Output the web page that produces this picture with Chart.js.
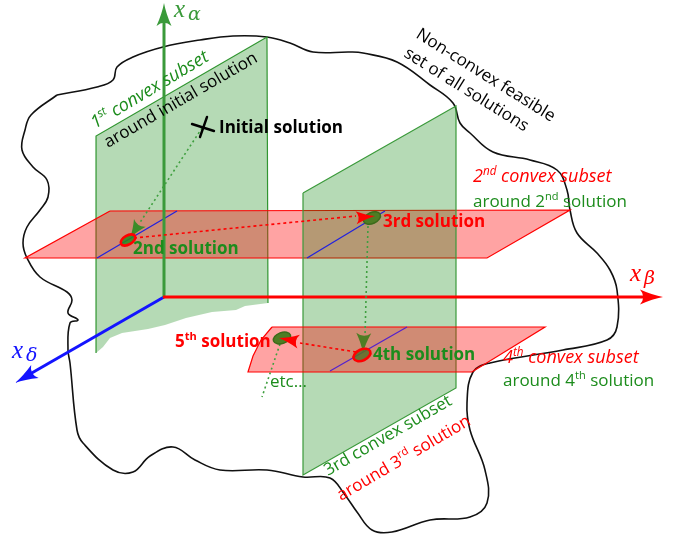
<!DOCTYPE html>
<html>
<head>
<meta charset="utf-8">
<script src="https://cdn.jsdelivr.net/npm/chart.js@4.4.1/dist/chart.umd.min.js"></script>
<style>
html,body{margin:0;padding:0;background:#fff;}
#wrap{width:684px;height:537px;position:relative;}
</style>
</head>
<body>
<div id="wrap"><canvas id="c"></canvas></div>
<script>
// ---------- diagram data (diagram coordinates, x right, y down) ----------
const feasibleOutline = [[57,95],[97,87],[113,80],[117,67],[133,57],[163,47],[200,40],[233,36],[267,37],[290,43],[313,52],[350,52],[363,53],[397,62],[430,85],[453,103],[460,123],[470,133],[493,152],[530,160],[557,170],[567,190],[570,210],[577,233],[597,253],[610,270],[617,290],[617,327],[607,340],[563,350],[490,363],[473,372],[467,403],[470,430],[485,470],[487,503],[470,517],[430,520],[392,532],[372,530],[357,512],[345,495],[330,478],[303,477],[267,470],[220,470],[195,460],[173,447],[150,456],[133,472],[113,470],[83,443],[77,430],[70,363],[68,350],[70,323],[78,320],[68,313],[72,300],[67,292],[40,277],[27,258],[23,243],[27,227],[40,210],[48,197],[47,180],[33,167],[22,150],[25,130],[31,115],[57,95]];
const subset1 = [[96,353],[96,136],[267,37],[268,303],[245,306],[236,310],[212,312],[186,318],[165,325],[148,329],[122,333],[110,338],[103,347],[96,353]];
const subset1Edges = [[96,353],[96,136],[267,37],[268,303]];
const subset2 = [[303,193],[456,106],[456,388],[303,475],[303,193]];
const planeA = [[110,211],[570,210],[487,258],[25,258],[110,211]];
const planeB = [[272,327],[545,327],[472,372],[248,372],[253,356],[261,340],[272,327]];
const blueA = [[97,258],[177,211]];
const blueB = [[307,258],[385,211]];
const blueC = [[330,371],[407,327]];
const axisAlpha = [[164,298],[164,20]];
const axisBeta = [[163,297],[645,297]];
const axisDelta = [[164,297],[30,374]];
const pathInitTo2 = [[202,128],[139,224]];
const path2To3 = [[134,238],[356,216]];
const path3To4 = [[368,226],[365,336]];
const path4To5 = [[356,352],[300,343]];
const pathEtc = [[280,344],[262,397]];
const initialMark = [203,127];
const solutions = [[128,240],[372,218],[362,355],[282,338]];
const arrowTips = [[130,238],[375,216],[363,353],[279,338]];

const labelTexts = ["Initial solution","2nd solution","3rd solution","4th solution","5^{th} solution","etc…","2^{nd} convex subset","around 2^{nd} solution","4^{th} convex subset","around 4^{th} solution","1^{st} convex subset","around initial solution","Non-convex feasible","set of all solutions","3rd convex subset","around 3^{rd} solution"];
const labelAnchors = [[219,133],[133,254],[383,227],[373,360],[175,347],[270,387],[473,182],[473,207],[503,363],[503,386],[95,129],[108,148],[415,37],[403,56],[328,476],[341,501]];
const labelAngles = [0,0,0,0,0,0,0,0,0,0,-31,-30,32,32,-30,-30.5];
const axisNames = ["x","α","x","β","x","δ"];

// ---------- styles ----------
const GREEN = '#1c8c1c', RED = '#ff0000', BLUE = '#1414ff', AXG = '#3a9a3a', OLIVE = '#4e7d24';
const labelStyles = [
 {w:'bold',s:'normal',c:'#000'},{w:'bold',s:'normal',c:GREEN},{w:'bold',s:'normal',c:RED},{w:'bold',s:'normal',c:GREEN},
 {w:'bold',s:'normal',c:RED},{w:'normal',s:'normal',c:GREEN},{w:'normal',s:'italic',c:RED},{w:'normal',s:'normal',c:GREEN},
 {w:'normal',s:'italic',c:RED},{w:'normal',s:'normal',c:GREEN},{w:'normal',s:'italic',c:GREEN},{w:'normal',s:'normal',c:'#000'},
 {w:'normal',s:'normal',c:'#000'},{w:'normal',s:'normal',c:'#000'},{w:'normal',s:'normal',c:GREEN},{w:'normal',s:'normal',c:RED}
];

const pts = a => a.map(p => ({x:p[0], y:p[1]}));
function ds(data, o) {
  return Object.assign({data: pts(data), showLine:true, pointRadius:0, pointHoverRadius:0, borderWidth:1.2, tension:0, fill:false, borderColor:'#000'}, o);
}

const datasets = [
  ds(feasibleOutline, {order:20, borderColor:'#111', borderWidth:1.6, tension:0.4}),
  ds(subset1, {order:19, fill:'shape', backgroundColor:'rgba(0,128,0,0.29)', borderColor:'rgba(0,0,0,0)', borderWidth:0}),
  ds(subset1Edges, {order:19, borderColor:AXG}),
  ds(planeA, {order:18, fill:'shape', backgroundColor:'rgba(255,0,0,0.36)', borderColor:RED}),
  ds(subset2, {order:17, fill:'shape', backgroundColor:'rgba(0,128,0,0.29)', borderColor:AXG}),
  ds(planeB, {order:16, fill:'shape', backgroundColor:'rgba(255,0,0,0.36)', borderColor:RED}),
  ds(blueA, {order:15, borderColor:'#2222dd', borderWidth:1.3}),
  ds(blueB, {order:15, borderColor:'#2222dd', borderWidth:1.3}),
  ds(blueC, {order:15, borderColor:'#5522cc', borderWidth:1.3}),
  ds(axisAlpha, {order:14, borderColor:AXG, borderWidth:3}),
  ds(axisDelta, {order:14, borderColor:BLUE, borderWidth:3}),
  ds(axisBeta, {order:13, borderColor:RED, borderWidth:3}),
  ds(pathInitTo2, {order:12, borderColor:'#3f9f3f', borderWidth:1.6, borderDash:[2,3]}),
  ds(path2To3, {order:12, borderColor:RED, borderWidth:1.6, borderDash:[3,3]}),
  ds(path3To4, {order:12, borderColor:'#3f9f3f', borderWidth:1.6, borderDash:[2,3]}),
  ds(path4To5, {order:12, borderColor:RED, borderWidth:1.6, borderDash:[3,3]}),
  ds(pathEtc, {order:12, borderColor:'#3f9f3f', borderWidth:1.6, borderDash:[2,3]})
];

function arrowHead(ctx, tip, from, len, half, color) {
  const a = Math.atan2(tip[1]-from[1], tip[0]-from[0]);
  ctx.save(); ctx.translate(tip[0], tip[1]); ctx.rotate(a);
  ctx.beginPath(); ctx.moveTo(0,0);
  ctx.quadraticCurveTo(-len*0.45, -half*0.25, -len, -half);
  ctx.quadraticCurveTo(-len*0.72, 0, -len, half);
  ctx.quadraticCurveTo(-len*0.45, half*0.25, 0, 0);
  ctx.closePath(); ctx.fillStyle = color; ctx.fill();
  ctx.restore();
}

function richText(ctx, x, y, rot, text, st, size) {
  const parts = [];
  const re = /\^\{([^}]*)\}/g; let last = 0, m;
  while ((m = re.exec(text))) { if (m.index > last) parts.push({t:text.slice(last, m.index)}); parts.push({t:m[1], sup:true}); last = re.lastIndex; }
  if (last < text.length) parts.push({t:text.slice(last)});
  ctx.save(); ctx.translate(x, y); ctx.rotate(rot*Math.PI/180);
  ctx.fillStyle = st.c; ctx.textBaseline = 'alphabetic'; ctx.textAlign = 'left';
  let cx = 0;
  const base = st.s === 'italic' ? size + 1 : size;
  for (const p of parts) {
    const sz = p.sup ? base*0.65 : base;
    ctx.font = `${st.s} ${st.w} ${sz}px "Open Sans"`;
    ctx.fillText(p.t, cx, p.sup ? -base*0.4 : 0);
    cx += ctx.measureText(p.t).width;
  }
  ctx.restore();
}

const overlay = {
  id: 'overlay',
  afterDatasetsDraw(chart) {
    const ctx = chart.ctx, xs = chart.scales.x, ys = chart.scales.y;
    const P = p => [xs.getPixelForValue(p[0]), ys.getPixelForValue(p[1])];
    // axis arrowheads
    arrowHead(ctx, P([164,3]), P(axisAlpha[0]), 23, 7.5, AXG);
    arrowHead(ctx, P([663,297]), P(axisBeta[0]), 23, 7.5, RED);
    arrowHead(ctx, P([15,383]), P(axisDelta[0]), 23, 7.5, BLUE);
    const ell = (c, rx, ry, rot, fill, stroke, lw) => {
      const q = P(c); ctx.save(); ctx.beginPath();
      ctx.ellipse(q[0], q[1], rx, ry, rot*Math.PI/180, 0, Math.PI*2);
      if (fill) { ctx.fillStyle = fill; ctx.fill(); }
      if (stroke) { ctx.strokeStyle = stroke; ctx.lineWidth = lw; ctx.stroke(); }
      ctx.restore();
    };
    // 2nd
    ell(solutions[0], 8, 4.5, -30, 'rgba(40,140,30,0.85)', null, 0);
    arrowHead(ctx, P(arrowTips[0]), P(pathInitTo2[0]), 18, 7, '#3c8c28');
    ell(solutions[0], 8, 4.5, -30, null, RED, 2.6);
    // 3rd
    ell(solutions[1], 9, 5.5, -25, OLIVE, '#3d6b1b', 1.5);
    arrowHead(ctx, P(arrowTips[1]), P(path2To3[0]), 19, 6.5, RED);
    // 4th
    ell(solutions[2], 9, 5.5, -25, 'rgba(90,110,40,0.85)', null, 0);
    arrowHead(ctx, P(arrowTips[2]), P(path3To4[0]), 20, 7.5, '#4e7d24');
    ell(solutions[2], 9, 5.5, -25, null, RED, 2.6);
    // 5th
    ell(solutions[3], 9, 5.5, -20, OLIVE, '#3d6b1b', 1.5);
    arrowHead(ctx, P(arrowTips[3]), P(path4To5[0]), 20, 7, RED);
    // initial solution cross
    const m = P(initialMark);
    ctx.save(); ctx.strokeStyle = '#000'; ctx.lineWidth = 2.4; ctx.lineCap = 'round';
    ctx.beginPath(); ctx.moveTo(m[0]-11, m[1]-3); ctx.lineTo(m[0]+11, m[1]+4);
    ctx.moveTo(m[0]+4, m[1]-10); ctx.lineTo(m[0]-3, m[1]+10); ctx.stroke(); ctx.restore();
    // labels
    labelTexts.forEach((t, i) => {
      const q = P(labelAnchors[i]);
      richText(ctx, q[0], q[1], labelAngles[i], t, labelStyles[i], 17);
    });
    // axis names
    const axName = (x, y, sx, sy, main, sub, col) => {
      const a = P([x,y]), b = P([sx,sy]);
      ctx.save(); ctx.fillStyle = col;
      ctx.font = 'italic 25px "Liberation Serif"'; ctx.fillText(main, a[0], a[1]);
      ctx.font = 'italic 19px "DejaVu Serif"'; ctx.fillText(sub, b[0], b[1]);
      ctx.restore();
    };
    axName(174, 17, 188, 20, axisNames[0], axisNames[1], AXG);
    axName(630, 281, 644, 284, axisNames[2], axisNames[3], RED);
    axName(12, 358, 26, 361, axisNames[4], axisNames[5], BLUE);
  }
};

function build() {
  new Chart(document.getElementById('c'), {
    type: 'scatter',
    data: { datasets },
    options: {
      responsive: true, maintainAspectRatio: false, animation: false, events: [],
      layout: { padding: 0 },
      scales: {
        x: { type:'linear', min:0, max:684, display:false },
        y: { type:'linear', min:0, max:537, reverse:true, display:false }
      },
      plugins: { legend:{display:false}, tooltip:{enabled:false} }
    },
    plugins: [overlay]
  });
}
Promise.all([
  document.fonts.load('17px "Open Sans"'), document.fonts.load('bold 17px "Open Sans"'),
  document.fonts.load('italic 18px "Open Sans"'), document.fonts.load('italic 25px "Liberation Serif"'),
  document.fonts.load('italic 19px "DejaVu Serif"')
]).then(build, build);
</script>
</body>
</html>
